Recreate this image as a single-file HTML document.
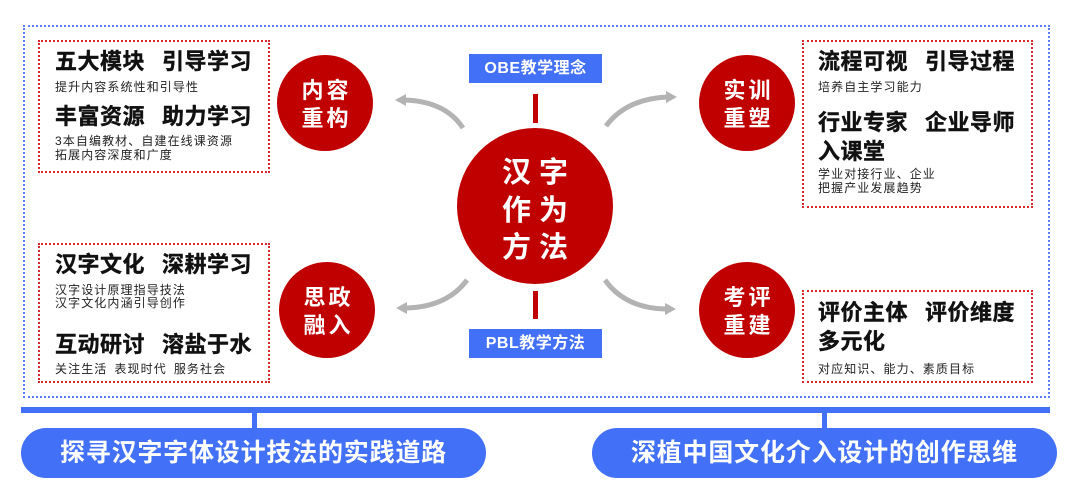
<!DOCTYPE html>
<html><head><meta charset="utf-8">
<style>
*{margin:0;padding:0;box-sizing:border-box}
html,body{width:1080px;height:504px;background:#fff;overflow:hidden}
body{position:relative;font-family:"Liberation Sans","Noto Sans CJK SC",sans-serif}
.abs{position:absolute}
.outer{left:23px;top:25px;width:1027px;height:373px;border:2px dotted #5a7ef6}
.rbox{position:absolute;border:2px dotted #d8262b}
.t{position:absolute;white-space:nowrap;font-weight:bold;color:#111;font-size:22px;line-height:26px;letter-spacing:0.5px;-webkit-text-stroke:0.4px #111}
.s{position:absolute;white-space:nowrap;color:#222;font-size:12px;line-height:14px;letter-spacing:1.1px}
.gap{display:inline-block;width:17px}
.sg{display:inline-block;width:7px}
.circ{position:absolute;border-radius:50%;background:#c00000;color:#fff;font-weight:bold;text-align:center}
.sc{width:96px;height:96px;font-size:22px;line-height:28px;letter-spacing:3px;padding-top:22px;padding-left:3px}
.tag{position:absolute;left:469px;width:133px;height:29px;background:#4270f6;color:#fff;font-weight:bold;font-size:16px;line-height:29px;text-align:center;letter-spacing:0.5px}
.vline{position:absolute;left:533px;width:5px;background:#c00000}
.pill{position:absolute;top:428px;height:50px;border-radius:25px;background:#4270f6;color:#fff;font-weight:bold;font-size:25px;line-height:50px;letter-spacing:0.8px;text-align:center;white-space:nowrap}
</style></head><body>

<div class="abs outer"></div>

<!-- box 1 -->
<div class="rbox" style="left:38px;top:40px;width:232px;height:133px"></div>
<div class="t" style="left:55px;top:49px">五大模块<span class="gap"></span>引导学习</div>
<div class="s" style="left:55px;top:80px">提升内容系统性和引导性</div>
<div class="t" style="left:55px;top:104px">丰富资源<span class="gap"></span>助力学习</div>
<div class="s" style="left:55px;top:134px">3本自编教材、自建在线课资源</div>
<div class="s" style="left:55px;top:148px">拓展内容深度和广度</div>

<!-- box 2 -->
<div class="rbox" style="left:38px;top:243px;width:232px;height:140px"></div>
<div class="t" style="left:55px;top:252px">汉字文化<span class="gap"></span>深耕学习</div>
<div class="s" style="left:55px;top:283px">汉字设计原理指导技法</div>
<div class="s" style="left:55px;top:296px">汉字文化内涵引导创作</div>
<div class="t" style="left:55px;top:332px">互动研讨<span class="gap"></span>溶盐于水</div>
<div class="s" style="left:55px;top:362px">关注生活<span class="sg"></span>表现时代<span class="sg"></span>服务社会</div>

<!-- box 3 -->
<div class="rbox" style="left:802px;top:40px;width:231px;height:168px"></div>
<div class="t" style="left:818px;top:49px">流程可视<span class="gap"></span>引导过程</div>
<div class="s" style="left:818px;top:80px">培养自主学习能力</div>
<div class="t" style="left:818px;top:110px">行业专家<span class="gap"></span>企业导师</div>
<div class="t" style="left:818px;top:139px">入课堂</div>
<div class="s" style="left:818px;top:167px">学业对接行业、企业</div>
<div class="s" style="left:818px;top:181px">把握产业发展趋势</div>

<!-- box 4 -->
<div class="rbox" style="left:802px;top:290px;width:231px;height:93px"></div>
<div class="t" style="left:818px;top:300px">评价主体<span class="gap"></span>评价维度</div>
<div class="t" style="left:818px;top:329px">多元化</div>
<div class="s" style="left:818px;top:362px">对应知识、能力、素质目标</div>

<!-- small circles -->
<div class="circ sc" style="left:277px;top:55px">内容<br>重构</div>
<div class="circ sc" style="left:279px;top:262px">思政<br>融入</div>
<div class="circ sc" style="left:699px;top:55px">实训<br>重塑</div>
<div class="circ sc" style="left:699px;top:262px">考评<br>重建</div>

<!-- center circle -->
<div class="circ" style="left:457px;top:128px;width:156px;height:156px;font-size:29px;line-height:37.5px;letter-spacing:8px;padding-top:27px;padding-left:8px">汉字<br>作为<br>方法</div>

<div class="vline" style="top:94px;height:29px"></div>
<div class="vline" style="top:291px;height:28px"></div>

<div class="tag" style="top:54px">OBE教学理念</div>
<div class="tag" style="top:329px">PBL教学方法</div>

<!-- arrows -->
<svg class="abs" style="left:0;top:0" width="1080" height="504">
<g fill="none" stroke="#b3b3b3" stroke-width="5">
<path d="M463 128 Q445 101 404 100"/>
<path d="M606 126 Q626 99 667 97"/>
<path d="M467 280 Q447 307 406 308"/>
<path d="M605 280 Q625 308 665 309"/>
</g>
<g fill="#b3b3b3">
<polygon points="395,100 406,94 406,106"/>
<polygon points="677,97 666,91 666,103"/>
<polygon points="396,308 407,302 407,314"/>
<polygon points="676,309 665,303 665,315"/>
</g>
</svg>

<!-- bottom bar -->
<div class="abs" style="left:21px;top:407px;width:1029px;height:6px;background:#4270f6"></div>
<div class="abs" style="left:252px;top:412px;width:5px;height:17px;background:#4270f6"></div>
<div class="abs" style="left:822px;top:412px;width:5px;height:17px;background:#4270f6"></div>

<div class="pill" style="left:21px;width:465px">探寻汉字字体设计技法的实践道路</div>
<div class="pill" style="left:592px;width:465px">深植中国文化介入设计的创作思维</div>

</body></html>
